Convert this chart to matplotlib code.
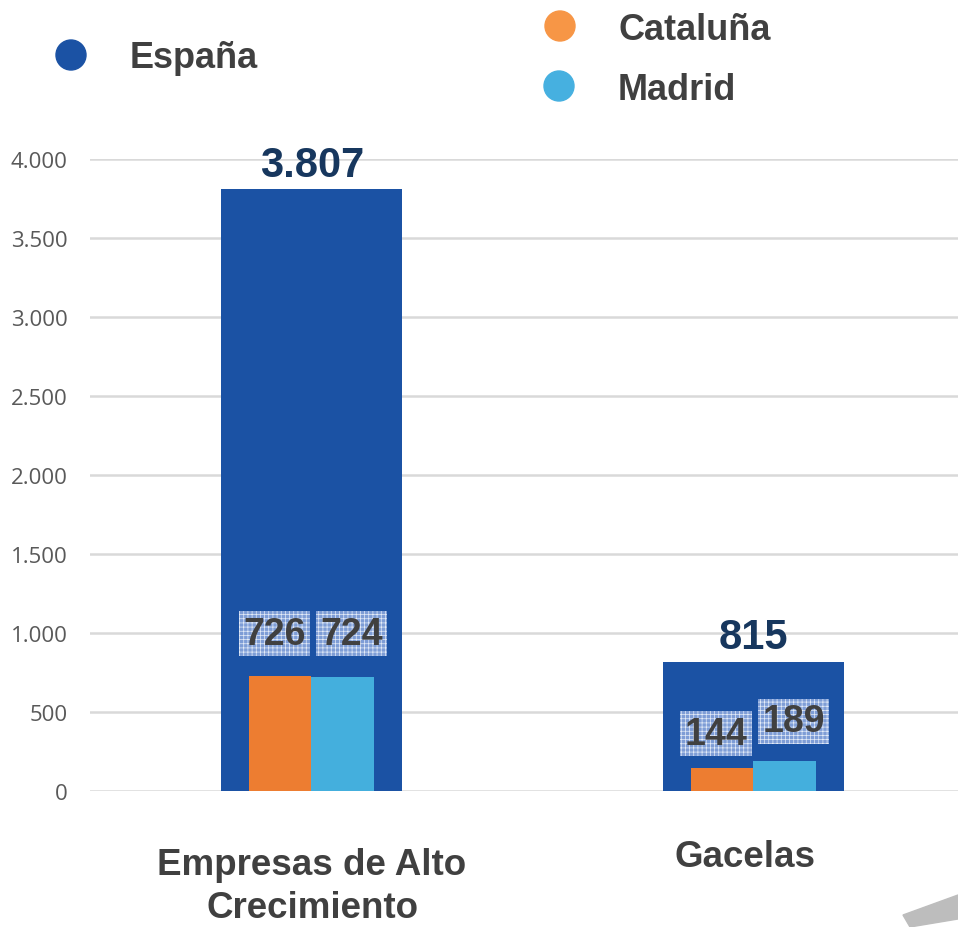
import matplotlib.pyplot as plt
from matplotlib.patches import Polygon, Ellipse

plt.rcParams['font.family'] = ['Liberation Sans', 'DejaVu Sans']
plt.rcParams['hatch.linewidth'] = 0.5

categories = ['Empresas de Alto\nCrecimiento', 'Gacelas']
espana = [3807, 815]
cataluna = [726, 144]
madrid = [724, 189]
espana_labels = ['3.807', '815']
cataluna_labels = ['726', '144']
madrid_labels = ['724', '189']
yticks = [0, 500, 1000, 1500, 2000, 2500, 3000, 3500, 4000]
ytick_labels = ['0', '500', '1.000', '1.500', '2.000', '2.500', '3.000', '3.500', '4.000']

c_esp = '#1B52A4'
c_cat = '#ED7D31'
c_mad = '#44AFDD'

W, H = 958, 928
fig = plt.figure(figsize=(W / 100, H / 100), dpi=100)
ax = fig.add_axes([90 / W, 136 / H, 868 / W, 632 / H])

x = [0, 1]
ax.bar(x, espana, width=0.41, color=c_esp, zorder=2)
ax.bar([i - 0.072 for i in x], cataluna, width=0.14, color=c_cat, zorder=3)
ax.bar([i + 0.07 for i in x], madrid, width=0.142, color=c_mad, zorder=3)

ax.set_xlim(-0.502, 1.462)
ax.set_ylim(0, 4000)
ax.set_yticks(yticks)
ax.set_yticklabels(ytick_labels, fontsize=16, color='#595959', family=['Open Sans', 'DejaVu Sans'])
ax.tick_params(axis='y', length=0, pad=16)
ax.tick_params(axis='x', length=0)
ax.set_xticks([])
ax.grid(axis='y', color='#D9D9D9', linewidth=1.8, zorder=0)
for s in ax.spines.values():
    s.set_visible(False)

# totals above España bars
for i in x:
    ax.text(i, espana[i] + 30, espana_labels[i], ha='center', va='bottom',
            fontsize=30, fontweight='bold', color='#17375E', clip_on=False, zorder=5)

box = dict(facecolor='#7E9DD6', edgecolor='#E4ECF8', linewidth=0, hatch='++++', pad=0.12, boxstyle='square')
lab_y_cat = [994, 361]
lab_y_mad = [994, 443]
for i in x:
    ax.text(i - 0.085, lab_y_cat[i], cataluna_labels[i], ha='center', va='center',
            fontsize=27, fontweight='bold', color='#404040', bbox=box, zorder=5)
    ax.text(i + 0.09, lab_y_mad[i], madrid_labels[i], ha='center', va='center',
            fontsize=27, fontweight='bold', color='#404040', bbox=box, zorder=5)

# category labels
fig.text(312 / W, 1 - 866 / H, 'Empresas de Alto', ha='center', va='center',
         fontsize=26.5, fontweight='bold', color='#404040')
fig.text(312 / W, 1 - 909 / H, 'Crecimiento', ha='center', va='center',
         fontsize=26.5, fontweight='bold', color='#404040')
fig.text(745 / W, 1 - 858 / H, categories[1], ha='center', va='center',
         fontsize=26.5, fontweight='bold', color='#404040')

# legend
leg = [('España', c_esp, 71, 56, 130), ('Cataluña', '#F79646', 560, 27, 618), ('Madrid', '#46B0E0', 559, 87, 618)]
for name, col, px, py, tx in leg:
    fig.patches.append(Ellipse((px / W, 1 - py / H), 30 / W, 30 / H,
                               transform=fig.transFigure, color=col))
    fig.text(tx / W, 1 - (py + 3) / H, name, ha='left', va='center',
             fontsize=26, fontweight='bold', color='#404040')

# gray decoration bottom right
pts = [(903, 916), (958, 896), (958, 920), (910, 928)]
fig.patches.append(Polygon([(a / W, 1 - b / H) for a, b in pts], closed=True,
                           transform=fig.transFigure, color='#BDBDBD'))

fig.savefig('out.png', dpi=100)
